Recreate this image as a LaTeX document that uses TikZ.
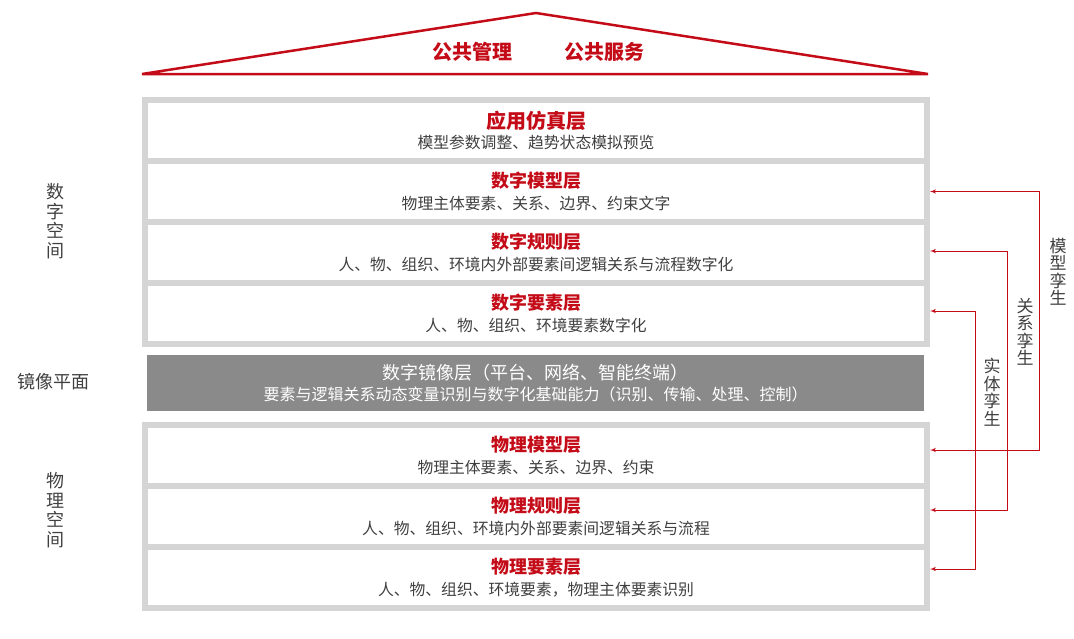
\documentclass[tikz,border=0pt]{standalone}
\usepackage{fontspec}
\setmainfont{Noto Sans CJK SC}
\usetikzlibrary{arrows, positioning}

\definecolor{hred}{RGB}{196,12,24}
\definecolor{framegray}{RGB}{213,213,213}
\definecolor{mirrorgray}{RGB}{138,138,138}
\definecolor{txtgray}{RGB}{64,64,64}

\newcommand{\lyrtitle}[2][18]{{\fontsize{#1}{20}\selectfont\bfseries\color{hred}#2}}
\newcommand{\lyrnote}[1]{{\fontsize{15.8}{20}\selectfont\color{txtgray}#1}}

\begin{document}
\begin{tikzpicture}[x=1pt,y=-1pt,>=latex',
  row/.style={draw=framegray, line width=6, fill=white, minimum width=782,
    minimum height=61, inner sep=0, align=center},
  mirror/.style={fill=mirrorgray, minimum width=777, minimum height=56,
    inner sep=0, align=center, text=white},
  side/.style={align=center, text=txtgray, font=\fontsize{18}{19.5}\selectfont},
  twinlbl/.style={align=center, text=txtgray, font=\fontsize{17}{17.5}\selectfont},
  twin/.style={<->, draw=hred, line width=1}]
\useasboundingbox (0,0) rectangle (1074,638);

% define the roof
  \draw[hred, line width=2.5, line join=miter] (142,74) -- (536,13) -- (928,74) -- cycle;
  \node[font=\fontsize{20}{22}\selectfont\bfseries, text=hred] (gl) at (472,52) {公共管理};
  \node[font=\fontsize{20}{22}\selectfont\bfseries, text=hred] (fw) at (604,52) {公共服务};

% define the digital space
  \node[row] (d1) at (536,130.5) {\lyrtitle[20]{应用仿真层}\\[4pt]\lyrnote{模型参数调整、趋势状态模拟预览}};
  \node[row] (d2) [below=-6pt of d1] {\lyrtitle{数字模型层}\\[5pt]\lyrnote{物理主体要素、关系、边界、约束文字}};
  \node[row] (d3) [below=-6pt of d2] {\lyrtitle{数字规则层}\\[5pt]\lyrnote{人、物、组织、环境内外部要素间逻辑关系与流程数字化}};
  \node[row] (d4) [below=-6pt of d3] {\lyrtitle{数字要素层}\\[5pt]\lyrnote{人、物、组织、环境要素数字化}};

% define the mirror plane
  \node[mirror] (mr) at (535.5,383) {{\fontsize{18}{20}\selectfont 数字镜像层（平台、网络、智能终端）}\\[5pt]
    {\fontsize{16}{20}\selectfont 要素与逻辑关系动态变量识别与数字化基础能力（识别、传输、处理、控制）}};

% define the physical space
  \node[row] (p1) at (536,455.5) {\lyrtitle{物理模型层}\\[5pt]\lyrnote{物理主体要素、关系、边界、约束}};
  \node[row] (p2) [below=-6pt of p1] {\lyrtitle{物理规则层}\\[5pt]\lyrnote{人、物、组织、环境内外部要素间逻辑关系与流程}};
  \node[row] (p3) [below=-6pt of p2] {\lyrtitle{物理要素层}\\[5pt]\lyrnote{人、物、组织、环境要素，物理主体要素识别}};

% side labels
  \node[side] (sz) at (55,221) {数\\字\\空\\间};
  \node[side] (jx) at (53,382) {镜像平面};
  \node[side] (wl) at (55,510) {物\\理\\空\\间};

% define the twin links
  \draw[twin] (d2.east) -- ++(109,0) |- ([yshift=5.5]p1.east);
  \draw[twin] ([yshift=1.5]d3.east) -- ++(77,0) |- ([yshift=6.5]p2.east);
  \draw[twin] ([yshift=2.5]d4.east) -- ++(45,0) |- ([yshift=8.5]p3.east);
  \node[twinlbl] (mx) at (1058,272) {模\\型\\孪\\生};
  \node[twinlbl] (gx) at (1025,332) {关\\系\\孪\\生};
  \node[twinlbl] (st) at (992,392) {实\\体\\孪\\生};
\end{tikzpicture}
\end{document}
